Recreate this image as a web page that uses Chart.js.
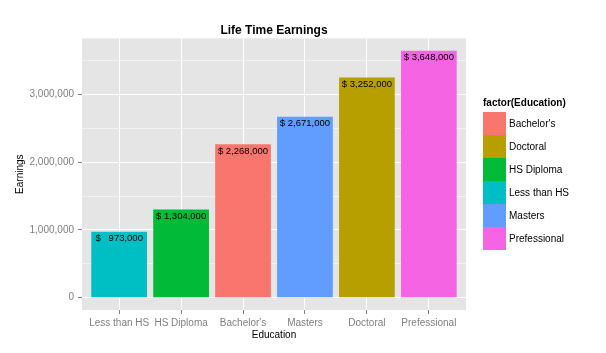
<!DOCTYPE html>
<html>
<head>
<meta charset="utf-8">
<script src="https://cdn.jsdelivr.net/npm/chart.js@4.4.0/dist/chart.umd.min.js"></script>
<style>
  body { margin: 0; background: #fff; }
  #wrap { position: relative; width: 606px; height: 353px; }
  #legend { position: absolute; left: 483px; top: 96px; font-family: "Liberation Sans", Arial, sans-serif; }
  #legend .ttl { font-size: 10px; font-weight: bold; height: 16px; line-height: 14px; }
  #legend .row { display: flex; align-items: center; height: 23px; font-size: 10px; color: #000; }
  #legend .key { width: 23px; height: 23px; margin-right: 3px; }
</style>
</head>
<body>
<div id="wrap">
  <canvas id="chart" width="606" height="353"></canvas>
  <div id="legend"></div>
</div>
<script>
// --- DADOS ---
const categorias = ["Less than HS", "HS Diploma", "Bachelor's", "Masters", "Doctoral", "Prefessional"];
const ganhos = [973000, 1304000, 2268000, 2671000, 3252000, 3648000];
const cores = ["#00BFC4", "#00BA38", "#F8766D", "#619CFF", "#B79F00", "#F564E3"];
const ticksY = [0, 1000000, 2000000, 3000000];
const gradeY = [0, 500000, 1000000, 1500000, 2000000, 2500000, 3000000, 3500000];
// legenda em ordem alfabetica (como o factor do R)
const ordemLegenda = ["Bachelor's", "Doctoral", "HS Diploma", "Less than HS", "Masters", "Prefessional"];

const FONTE = "'Liberation Sans', Arial, sans-serif";
const expand = Math.max(...ganhos) * 0.05;

const rotuloBarra = v => "$ " + v.toLocaleString("en-US").padStart(9, " ");

// rotulos em cima das barras
const rotulosPlugin = {
  id: "rotulos",
  afterDatasetsDraw(chart) {
    const ctx = chart.ctx;
    const meta = chart.getDatasetMeta(0);
    ctx.save();
    ctx.font = "9.5px " + FONTE;
    ctx.fillStyle = "#000";
    ctx.textAlign = "center";
    ctx.textBaseline = "top";
    meta.data.forEach((bar, i) => {
      ctx.fillText(rotuloBarra(ganhos[i]), bar.x, bar.y + 2);
    });
    ctx.restore();
  }
};

// fundo cinza do painel
const painelPlugin = {
  id: "painel",
  beforeDraw(chart) {
    const { ctx, chartArea: a } = chart;
    ctx.save();
    ctx.fillStyle = "#E5E5E5";
    ctx.fillRect(a.left, a.top, a.right - a.left, a.bottom - a.top);
    ctx.restore();
  }
};

new Chart(document.getElementById("chart"), {
  type: "bar",
  data: {
    datasets: [{
      data: ganhos.map((v, i) => ({ x: i, y: v })),
      backgroundColor: cores,
      barPercentage: 0.9,
      categoryPercentage: 1.0
    }]
  },
  options: {
    responsive: false,
    animation: false,
    layout: { padding: { left: 0, right: 140, top: 0, bottom: 0 } },
    plugins: {
      legend: { display: false },
      tooltip: { enabled: false },
      title: {
        display: true,
        text: "Life Time Earnings",
        fullSize: false,
        color: "#000",
        font: { family: FONTE, size: 12, weight: "bold" },
        padding: { top: 23, bottom: 1 }
      }
    },
    scales: {
      x: {
        type: "linear",
        offset: false,
        min: -0.6,
        max: categorias.length - 0.4,
        afterBuildTicks: s => { s.ticks = categorias.map((_, i) => ({ value: i })); },
        afterFit: s => { s.height = 43; },
        border: { display: false },
        grid: { offset: false, color: "#FFFFFF", lineWidth: 1, tickColor: "#7F7F7F", tickLength: 4 },
        ticks: {
          autoSkip: false,
          maxRotation: 0,
          padding: 3,
          color: "#7F7F7F",
          font: { family: FONTE, size: 10 },
          callback: v => categorias[v] ?? ""
        },
        title: {
          display: true,
          text: "Education",
          color: "#000",
          font: { family: FONTE, size: 10 },
          padding: { top: 0, bottom: 12 }
        }
      },
      y: {
        min: -expand,
        max: Math.max(...ganhos) + expand,
        afterBuildTicks: s => { s.ticks = gradeY.map(v => ({ value: v })); },
        afterFit: s => { s.width = 82; },
        border: { display: false },
        grid: {
          color: c => ticksY.includes(c.tick.value) ? "#FFFFFF" : "#F2F2F2",
          lineWidth: 1,
          tickColor: c => ticksY.includes(c.tick.value) ? "#7F7F7F" : "rgba(0,0,0,0)",
          tickLength: 4
        },
        ticks: {
          padding: 4,
          color: "#7F7F7F",
          font: { family: FONTE, size: 10 },
          callback: v => ticksY.includes(v) ? v.toLocaleString("en-US") : ""
        },
        title: {
          display: true,
          text: "Earnings",
          color: "#000",
          font: { family: FONTE, size: 10 },
          padding: { top: 14, bottom: 0 }
        }
      }
    }
  },
  plugins: [painelPlugin, rotulosPlugin]
});

// --- LEGENDA ---
const legendaEl = document.getElementById("legend");
legendaEl.innerHTML = '<div class="ttl">factor(Education)</div>';
ordemLegenda.forEach(nome => {
  const row = document.createElement("div");
  row.className = "row";
  row.innerHTML = `<div class="key" style="background:${cores[categorias.indexOf(nome)]}"></div><span>${nome}</span>`;
  legendaEl.appendChild(row);
});
</script>
</body>
</html>
